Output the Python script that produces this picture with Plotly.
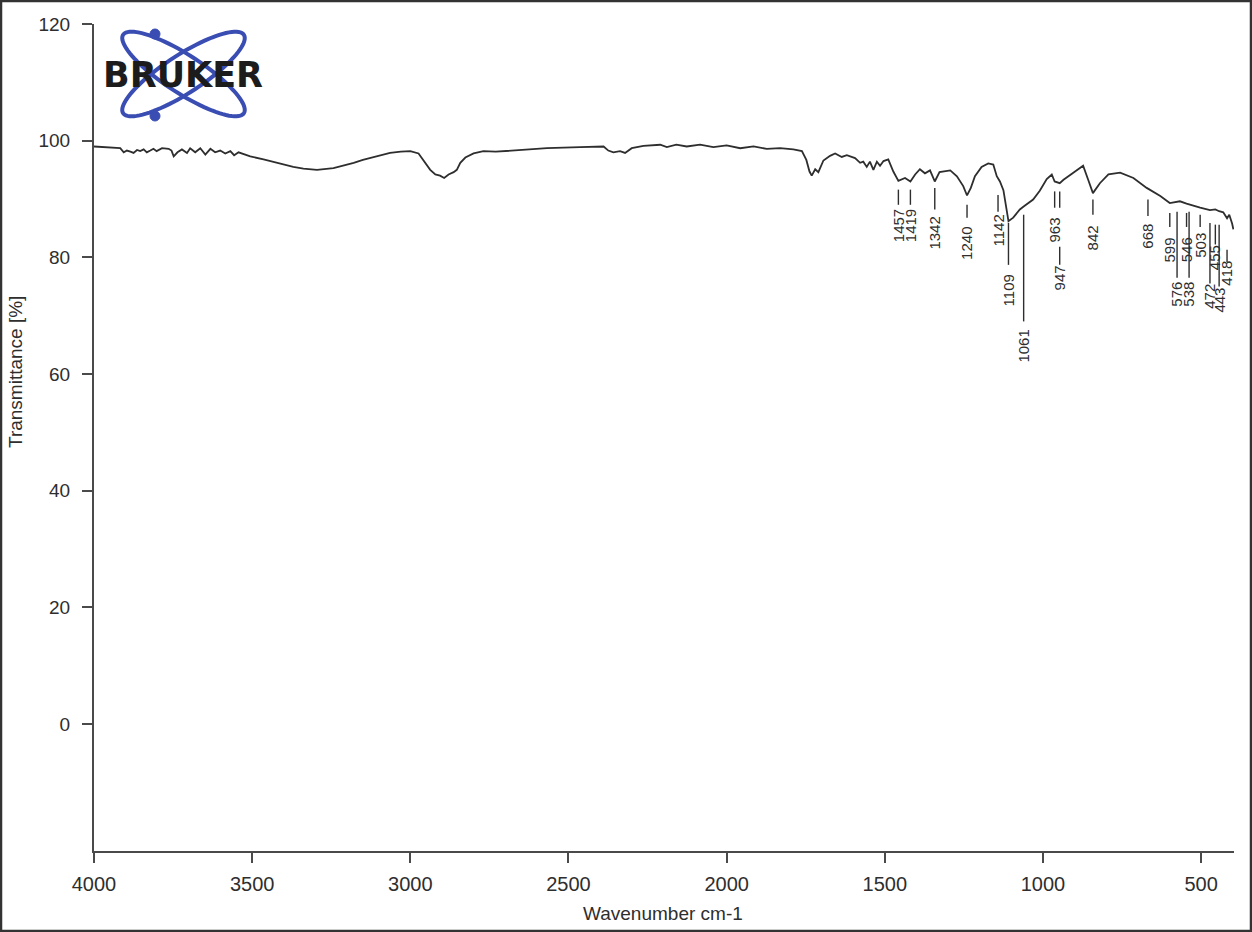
import numpy as np
import plotly.graph_objects as go

# FTIR spectrum (transmittance vs wavenumber)
wavenumber = [4000, 3975, 3948, 3917, 3906, 3896, 3885, 3875, 3864, 3854, 3843, 3833,
              3822, 3812, 3802, 3785, 3764, 3755, 3748, 3736, 3722, 3706, 3696, 3680,
              3664, 3648, 3632, 3617, 3601, 3585, 3569, 3557, 3543, 3525, 3506, 3464,
              3430, 3401, 3370, 3338, 3295, 3243, 3210, 3179, 3150, 3116, 3064, 3030,
              3000, 2974, 2953, 2937, 2921, 2906, 2893, 2879, 2863, 2853, 2842, 2826,
              2800, 2769, 2730, 2674, 2568, 2463, 2389, 2374, 2358, 2337, 2321, 2300,
              2263, 2210, 2189, 2159, 2126, 2084, 2042, 2000, 1957, 1915, 1873, 1831,
              1789, 1762, 1748, 1738, 1731, 1720, 1710, 1694, 1673, 1657, 1636, 1620,
              1594, 1578, 1568, 1557, 1547, 1536, 1525, 1515, 1504, 1489, 1473, 1457,
              1436, 1419, 1404, 1389, 1373, 1357, 1349, 1342, 1327, 1309, 1293, 1272,
              1252, 1240, 1228, 1215, 1194, 1173, 1157, 1146, 1136, 1125, 1109, 1094,
              1073, 1061, 1051, 1031, 1010, 988, 972, 963, 947, 935, 904, 873,
              857, 842, 820, 793, 756, 714, 672, 629, 599, 576, 567, 546,
              535, 503, 472, 455, 443, 430, 418, 411, 402, 398]
transmittance = [99.0, 98.9, 98.9, 98.7, 98.0, 98.3, 98.1, 97.9, 98.4, 98.2, 98.5, 98.0,
                 98.3, 98.6, 98.2, 98.7, 98.6, 98.3, 97.3, 98.0, 98.5, 97.9, 98.7, 98.0,
                 98.7, 97.6, 98.6, 98.0, 98.3, 97.8, 98.2, 97.5, 98.0, 97.7, 97.3, 96.8,
                 96.3, 95.9, 95.5, 95.2, 95.0, 95.3, 95.7, 96.2, 96.7, 97.2, 97.9, 98.1,
                 98.2, 97.8, 96.2, 95.0, 94.2, 94.0, 93.6, 94.2, 94.6, 95.0, 96.2, 97.1,
                 97.8, 98.2, 98.1, 98.3, 98.7, 98.9, 99.0, 98.3, 98.0, 98.2, 97.9, 98.7,
                 99.1, 99.3, 98.9, 99.3, 99.0, 99.3, 98.9, 99.2, 98.7, 99.0, 98.6, 98.7,
                 98.5, 98.2, 96.7, 94.7, 94.0, 95.1, 94.6, 96.6, 97.4, 97.8, 97.2, 97.5,
                 97.0, 96.2, 96.4, 95.5, 96.4, 95.0, 96.4, 95.7, 96.5, 96.8, 94.7, 93.1,
                 93.6, 93.0, 94.2, 95.1, 94.4, 94.9, 93.8, 93.0, 94.6, 94.8, 94.9, 93.9,
                 92.2, 90.6, 91.9, 93.9, 95.5, 96.1, 95.9, 93.9, 93.0, 91.5, 86.2, 86.8,
                 88.2, 88.7, 89.1, 89.9, 91.4, 93.4, 94.2, 93.0, 92.7, 93.3, 94.5, 95.7,
                 93.3, 91.0, 92.7, 94.2, 94.5, 93.6, 91.9, 90.5, 89.3, 89.5, 89.6, 89.2,
                 89.0, 88.5, 88.1, 88.2, 87.9, 87.7, 86.7, 87.3, 85.8, 84.8]

x_ticks = [4000, 3500, 3000, 2500, 2000, 1500, 1000, 500]
y_ticks = [0, 20, 40, 60, 80, 100, 120]

# peak picks
peaks = [1457, 1419, 1342, 1240, 1142, 1109, 1061, 963, 947, 842,
         668, 599, 576, 546, 538, 503, 472, 455, 443, 418]

# label placement (transmittance units): line top, line bottom, text centre
label_line_top = [91.6, 91.6, 91.9, 89.0, 90.7, 85.9, 87.3, 91.3, 91.3, 89.9,
                  89.9, 87.6, 87.8, 87.6, 87.8, 87.3, 85.9, 85.6, 85.6, 81.3]
label_line_bottom = [89.0, 89.0, 88.2, 86.8, 87.8, 78.7, 69.0, 88.5, 88.5, 87.3,
                     87.1, 85.2, 76.5, 85.2, 76.5, 85.2, 75.5, 82.2, 75.0, 79.2]
label_text_y = [85.4, 85.4, 84.2, 82.3, 84.6, 74.4, 64.8, 84.7, 76.5, 83.4,
                83.7, 81.3, 73.6, 81.3, 73.6, 82.0, 73.4, 79.9, 72.6, 77.2]
# 947 has its line continue past the 963 label
extra_segments = {947: (81.8, 78.7)}

ink = "#2e2e2e"
axis_col = "#4a4a4a"
font_family = "Liberation Sans, Arial, sans-serif"

fig = go.Figure()
fig.add_trace(go.Scatter(
    x=wavenumber,
    y=transmittance,
    mode="lines",
    line=dict(color=ink, width=1.8),
    showlegend=False,
    hoverinfo="x+y",
))

shapes = []
annotations = []
for i, p in enumerate(peaks):
    shapes.append(dict(type="line", xref="x", yref="y", x0=p, x1=p,
                       y0=label_line_top[i], y1=label_line_bottom[i],
                       line=dict(color=ink, width=1.4)))
    if p in extra_segments:
        y0, y1 = extra_segments[p]
        shapes.append(dict(type="line", xref="x", yref="y", x0=p, x1=p, y0=y0, y1=y1,
                           line=dict(color=ink, width=1.4)))
    annotations.append(dict(x=p, y=label_text_y[i], xref="x", yref="y", text=str(p),
                            textangle=-90, showarrow=False, xanchor="center", yanchor="middle",
                            font=dict(size=15, color=ink, family=font_family)))

# page geometry (pixels) used for paper-coordinate decorations
W, H = 1252, 932
ml, mr, mt, mb = 94, 18, 24, 81
pw, ph = W - ml - mr, H - mt - mb

def px(x):
    return (x - ml) / pw

def py(y):
    return (H - mb - y) / ph

# outer frame round the whole picture
shapes.append(dict(type="rect", xref="paper", yref="paper",
                   x0=px(1), x1=px(W - 1), y0=py(H - 1), y1=py(1),
                   line=dict(color="#333333", width=2.5), layer="above"))

# Bruker logo: two crossed orbits with two electrons
logo_blue = "#3a4db3"
cx, cy = 183.5, 74
a, b = 72, 19
t = np.linspace(0, 2 * np.pi, 90)
for ang in (33, -33):
    th = np.radians(ang)
    ex = cx + a * np.cos(t) * np.cos(th) - b * np.sin(t) * np.sin(th)
    ey = cy + a * np.cos(t) * np.sin(th) + b * np.sin(t) * np.cos(th)
    path = "M " + " L ".join(f"{px(u):.5f},{py(v):.5f}" for u, v in zip(ex, ey)) + " Z"
    shapes.append(dict(type="path", xref="paper", yref="paper", path=path,
                       line=dict(color=logo_blue, width=4)))
for dx, dy in [(155, 34), (155, 116)]:
    shapes.append(dict(type="circle", xref="paper", yref="paper",
                       x0=px(dx - 5), x1=px(dx + 5), y0=py(dy + 5), y1=py(dy - 5),
                       fillcolor=logo_blue, line=dict(color=logo_blue, width=1)))
annotations.append(dict(x=px(182.5), y=py(75), xref="paper", yref="paper", text="BRUKER",
                        showarrow=False, xanchor="center", yanchor="middle",
                        font=dict(size=35, color="#1c1c1c", family="DejaVu Sans", weight="bold")))

# axis titles
annotations.append(dict(x=px(663), y=py(913), xref="paper", yref="paper",
                        text="Wavenumber cm-1", showarrow=False,
                        xanchor="center", yanchor="middle",
                        font=dict(size=19, color=ink, family=font_family)))
annotations.append(dict(x=px(15), y=py(372), xref="paper", yref="paper",
                        text="Transmittance [%]", showarrow=False, textangle=-90,
                        xanchor="center", yanchor="middle",
                        font=dict(size=19, color=ink, family=font_family)))

fig.update_xaxes(
    range=[4000, 396],
    tickvals=x_ticks,
    ticks="outside",
    ticklen=10,
    tickwidth=1.5,
    tickcolor=axis_col,
    showline=True,
    linecolor=axis_col,
    linewidth=2,
    showgrid=False,
    zeroline=False,
    ticklabelstandoff=4,
    tickfont=dict(size=20, color=ink, family=font_family),
)
fig.update_yaxes(
    range=[-21.8, 120],
    tickvals=y_ticks,
    ticks="outside",
    ticklen=10,
    tickwidth=1.5,
    tickcolor=axis_col,
    showline=True,
    linecolor=axis_col,
    linewidth=2,
    showgrid=False,
    zeroline=False,
    ticklabelstandoff=8,
    tickfont=dict(size=19, color=ink, family=font_family),
)
fig.update_layout(
    width=W,
    height=H,
    margin=dict(l=ml, r=mr, t=mt, b=mb),
    plot_bgcolor="white",
    paper_bgcolor="white",
    shapes=shapes,
    annotations=annotations,
    showlegend=False,
)
# drop the page's default body margin so the figure fills the window exactly
fig.write_html("out.html", config={"displayModeBar": False},
               post_script="document.body.style.margin='0';")
